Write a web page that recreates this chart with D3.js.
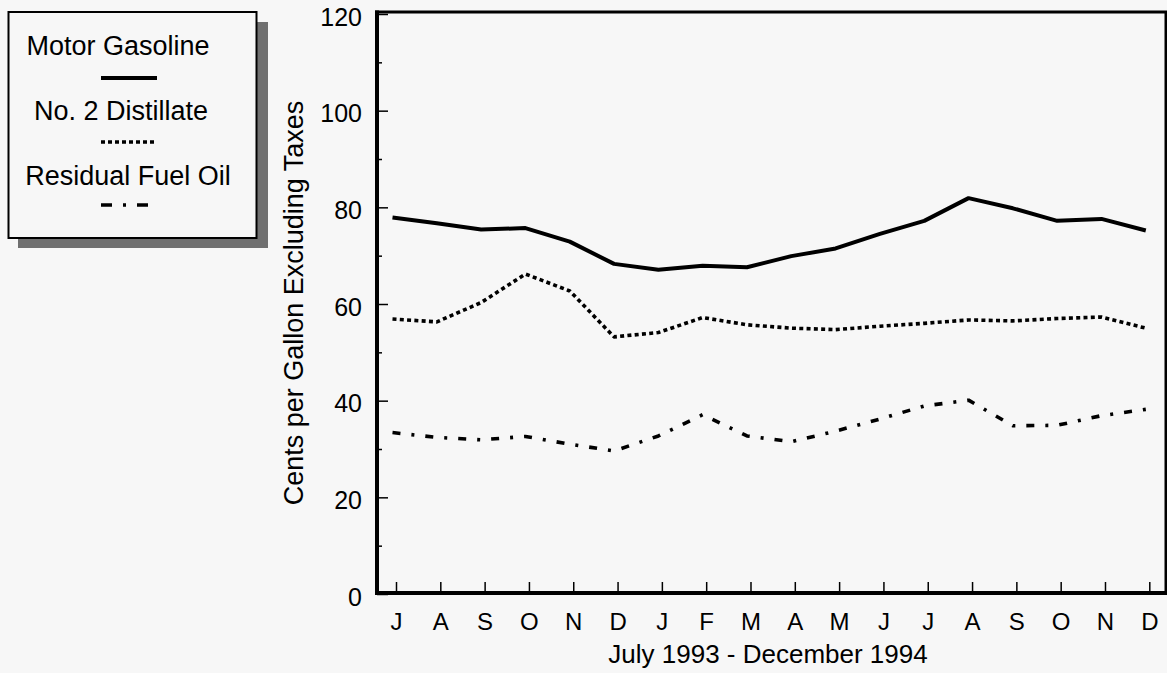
<!DOCTYPE html>
<html>
<head>
<meta charset="utf-8">
<script src="https://cdn.jsdelivr.net/npm/d3@7"></script>
<style>
  html, body { margin: 0; padding: 0; background: #f7f7f7; }
  svg { display: block; font-family: "Liberation Sans", Arial, Helvetica, sans-serif; }
</style>
</head>
<body>
<svg id="chart" width="1167" height="673"></svg>
<script>
// ---- Data ----
const months = ["1993-07","1993-08","1993-09","1993-10","1993-11","1993-12",
                "1994-01","1994-02","1994-03","1994-04","1994-05","1994-06",
                "1994-07","1994-08","1994-09","1994-10","1994-11","1994-12"];
const monthLabels = ["J","A","S","O","N","D","J","F","M","A","M","J","J","A","S","O","N","D"];
const motorGasoline = [77.9,76.7,75.4,75.7,72.9,68.3,67.1,67.9,67.6,69.9,71.5,74.5,77.2,81.9,79.8,77.2,77.6,75.2];
const no2Distillate = [56.9,56.3,60.3,66.2,62.7,53.2,54.1,57.2,55.7,55.0,54.7,55.4,56.0,56.7,56.5,57.0,57.3,55.0];
const residualFuelOil = [33.4,32.4,31.9,32.6,31.0,29.6,32.7,37.1,32.7,31.5,33.7,36.2,38.9,40.1,34.8,34.9,36.9,38.2];
const yMajorTicks = [0,20,40,60,80,100,120];
const yMinorTicks = [10,30,50,70,90,110];
const seriesNames = ["Motor Gasoline","No. 2 Distillate","Residual Fuel Oil"];
const yTitle = "Cents per Gallon Excluding Taxes";
const xTitle = "July 1993 - December 1994";

// ---- Layout ----
const svg = d3.select("#chart");
const pLeft = 377, pRight = 1166, pTop = 12, pBottom = 593;

const x = d3.scalePoint().domain(months).range([396, 1149.3]);
const y = d3.scaleLinear().domain([0, 120]).range([594, 14]);

const styles = [
  { width: 4, dash: null },
  { width: 3.6, dash: "4,3.3" },
  { width: 3.6, dash: "8,11,3,11" }
];
const seriesData = [motorGasoline, no2Distillate, residualFuelOil];

// Y axis ticks (inside)
const yAxisMajor = d3.axisLeft(y).tickValues(yMajorTicks).tickSize(-11).tickPadding(15);
const gy = svg.append("g").attr("transform", `translate(${pLeft},0)`).call(yAxisMajor);
gy.select(".domain").remove();
gy.selectAll(".tick line").attr("stroke", "#000").attr("stroke-width", 1.5);
gy.selectAll(".tick text")
  .attr("font-size", 25).attr("font-family", "Liberation Sans, Arial, sans-serif")
  .attr("fill", "#000").attr("dy", "0.45em");

const yAxisMinor = d3.axisLeft(y).tickValues(yMinorTicks).tickSize(-5).tickFormat("");
const gym = svg.append("g").attr("transform", `translate(${pLeft},0)`).call(yAxisMinor);
gym.select(".domain").remove();
gym.selectAll(".tick line").attr("stroke", "#000").attr("stroke-width", 1.5);

// X axis ticks (inside)
const xAxis = d3.axisBottom(x).tickSize(-11).tickFormat((d, i) => monthLabels[i]).tickPadding(0);
const gx = svg.append("g").attr("transform", `translate(0,${pBottom})`).call(xAxis);
gx.select(".domain").remove();
gx.selectAll(".tick line").attr("stroke", "#000").attr("stroke-width", 1.5);
gx.selectAll(".tick text")
  .attr("font-size", 24).attr("font-family", "Liberation Sans, Arial, sans-serif")
  .attr("fill", "#000").attr("dy", null).attr("y", 36.5);

// Frame
svg.append("line").attr("x1", pLeft - 2).attr("x2", pRight + 1).attr("y1", pTop).attr("y2", pTop)
  .attr("stroke", "#000").attr("stroke-width", 3);
svg.append("line").attr("x1", pRight).attr("x2", pRight).attr("y1", pTop).attr("y2", pBottom)
  .attr("stroke", "#000").attr("stroke-width", 3);
svg.append("line").attr("x1", pLeft).attr("x2", pLeft).attr("y1", pTop - 1.5).attr("y2", pBottom + 2)
  .attr("stroke", "#000").attr("stroke-width", 4);
svg.append("line").attr("x1", pLeft - 2).attr("x2", pRight + 1).attr("y1", pBottom).attr("y2", pBottom)
  .attr("stroke", "#000").attr("stroke-width", 4);

// Lines
const line = d3.line().x((d, i) => x(months[i])).y(d => y(d));
const gl = svg.append("g").attr("transform", "translate(-3.5,0)");
seriesData.forEach((data, k) => {
  gl.append("path")
    .datum(data)
    .attr("d", line)
    .attr("fill", "none")
    .attr("stroke", "#000")
    .attr("stroke-width", styles[k].width)
    .attr("stroke-dasharray", styles[k].dash)
    .attr("stroke-linejoin", "round");
});

// Axis titles
svg.append("text")
  .attr("transform", "translate(303,303) rotate(-90)")
  .attr("text-anchor", "middle").attr("font-size", 27).attr("fill", "#000")
  .text(yTitle);
svg.append("text")
  .attr("x", 768).attr("y", 663)
  .attr("text-anchor", "middle").attr("font-size", 26).attr("fill", "#000")
  .text(xTitle);

// Legend
const lg = svg.append("g");
lg.append("rect").attr("x", 18).attr("y", 22).attr("width", 250).attr("height", 226).attr("fill", "#707070");
lg.append("rect").attr("x", 8.5).attr("y", 12).attr("width", 248).attr("height", 226)
  .attr("fill", "#f7f7f7").attr("stroke", "#000").attr("stroke-width", 2);
const legendText = [{ x: 118, y: 55 }, { x: 121, y: 120 }, { x: 128, y: 185 }];
const legendLine = [78, 142, 205];
const legendStyles = [
  { width: 4, dash: null },
  { width: 3.5, dash: "4,3" },
  { width: 3.5, dash: "11,11,3,11" }
];
seriesNames.forEach((name, k) => {
  lg.append("text").attr("x", legendText[k].x).attr("y", legendText[k].y)
    .attr("text-anchor", "middle").attr("font-size", 27).attr("fill", "#000").text(name);
  lg.append("line").attr("x1", 101).attr("x2", 157).attr("y1", legendLine[k]).attr("y2", legendLine[k])
    .attr("stroke", "#000").attr("stroke-width", legendStyles[k].width)
    .attr("stroke-dasharray", legendStyles[k].dash);
});
</script>
</body>
</html>
